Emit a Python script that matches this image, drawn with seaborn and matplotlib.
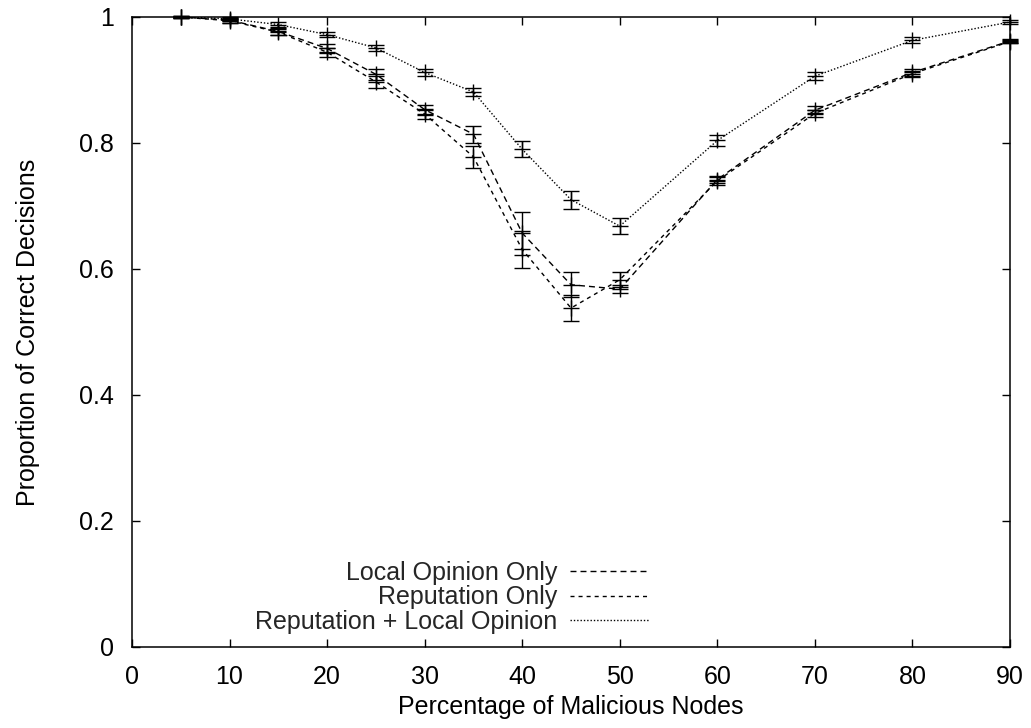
import numpy as np
import pandas as pd
import matplotlib
matplotlib.use("Agg")
import matplotlib.pyplot as plt
from matplotlib.lines import Line2D
import seaborn as sns

# ---------------- data ----------------
malicious = [5, 10, 15, 20, 25, 30, 35, 40, 45, 50, 60, 70, 80, 90]

local_only = [1.000, 0.995, 0.977, 0.950, 0.909, 0.853, 0.814, 0.657, 0.575, 0.568, 0.742, 0.852, 0.912, 0.962]
local_err = [0.002, 0.004, 0.005, 0.007, 0.009, 0.008, 0.0135, 0.034, 0.020, 0.006, 0.006, 0.006, 0.005, 0.003]

reputation_only = [1.000, 0.994, 0.976, 0.944, 0.897, 0.846, 0.778, 0.631, 0.538, 0.583, 0.740, 0.847, 0.910, 0.961]
reputation_err = [0.002, 0.004, 0.005, 0.007, 0.009, 0.008, 0.017, 0.030, 0.021, 0.012, 0.006, 0.006, 0.005, 0.003]

combined = [1.000, 0.997, 0.988, 0.972, 0.951, 0.912, 0.881, 0.790, 0.710, 0.668, 0.804, 0.906, 0.963, 0.992]
combined_err = [0.002, 0.003, 0.004, 0.004, 0.005, 0.006, 0.007, 0.013, 0.014, 0.013, 0.008, 0.006, 0.005, 0.003]

series_names = ["Local Opinion Only", "Reputation Only", "Reputation + Local Opinion"]
x_ticks = [0, 10, 20, 30, 40, 50, 60, 70, 80, 90]
y_ticks = [0, 0.2, 0.4, 0.6, 0.8, 1.0]
y_tick_labels = ["0", "0.2", "0.4", "0.6", "0.8", "1"]

# ---------------- style ----------------
sns.set_style("ticks")
plt.rcParams["font.family"] = ["Liberation Sans", "DejaVu Sans"]
FS = 18

dash_map = {
    series_names[0]: (4.3, 2.9),
    series_names[1]: (2.9, 2.9),
    series_names[2]: (1.0, 1.4),
}

rows = []
for name, vals in zip(series_names, [local_only, reputation_only, combined]):
    for xv, yv in zip(malicious, vals):
        rows.append({"x": xv, "y": yv, "series": name})
df = pd.DataFrame(rows)

fig = plt.figure(figsize=(10.31, 7.28), dpi=100)
ax = fig.add_axes([132 / 1031, 1 - 647 / 728, 878 / 1031, 630 / 728])

sns.lineplot(data=df, x="x", y="y", style="series", style_order=series_names,
             dashes=dash_map, color="black", linewidth=1.0, legend=False,
             estimator=None, sort=True, ax=ax)

for vals, errs in zip([local_only, reputation_only, combined],
                      [local_err, reputation_err, combined_err]):
    cont = ax.errorbar(malicious, vals, yerr=errs, fmt="+", color="black",
                       ecolor="black", elinewidth=1.0, capsize=6, capthick=1.0,
                       markersize=12, markeredgewidth=1.0, linestyle="none")
    for art in cont.get_children():
        art.set_clip_on(False)

ax.set_xlim(0, 90)
ax.set_ylim(0, 1)
ax.set_xticks(x_ticks)
ax.set_xticklabels([str(t) for t in x_ticks])
ax.set_yticks(y_ticks)
ax.set_yticklabels(y_tick_labels)
ax.tick_params(direction="in", length=6, width=1.0, top=True, right=True,
               labelsize=FS, pad=13, color="black", labelcolor="black")
for sp in ax.spines.values():
    sp.set_visible(True)
    sp.set_linewidth(1.1)
    sp.set_color("black")

ax.set_xlabel("Percentage of Malicious Nodes", fontsize=FS, color="black")
ax.set_ylabel("Proportion of Correct Decisions", fontsize=FS, color="black")
ax.xaxis.set_label_coords(0.5, (647 - 695) / 630)
ax.yaxis.set_label_coords((40 - 132) / 878, 0.5)

handles = [Line2D([], [], color="black", linewidth=1.0, dashes=dash_map[n]) for n in series_names]
leg = ax.legend(handles, series_names, loc="upper right",
                bbox_to_anchor=((650 - 132) / 878, (647 - 561) / 630),
                bbox_transform=ax.transAxes, frameon=False, markerfirst=False,
                fontsize=FS, handlelength=3.2, handletextpad=0.5,
                labelspacing=0.01, borderpad=0, borderaxespad=0)

fig.savefig("out.png", dpi=100, facecolor="white")
